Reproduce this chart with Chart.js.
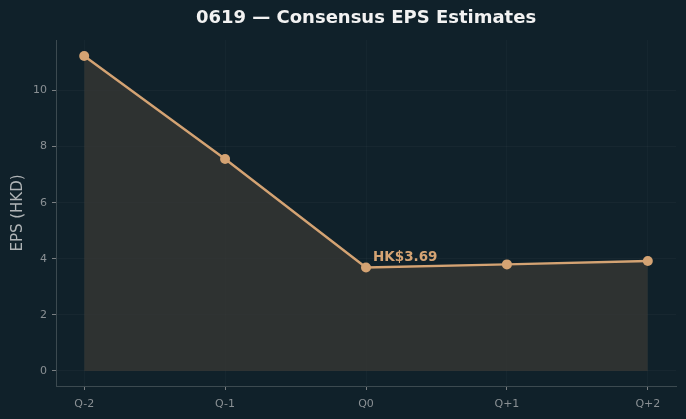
<!DOCTYPE html>
<html><head><meta charset="utf-8">
<script src="https://cdn.jsdelivr.net/npm/chart.js@4/dist/chart.umd.min.js"></script>
<style>html,body{margin:0;padding:0;background:#10212a;}#c{display:block;}</style>
</head><body>
<canvas id="c" width="686" height="419"></canvas>
<script>
const categories = ["Q-2","Q-1","Q0","Q+1","Q+2"];
const epsValues = [11.23, 7.56, 3.69, 3.80, 3.92];
const yTicks = [0,2,4,6,8,10];
const annotationIndex = 2;
const annotationText = "HK$3.69";
const titleText = "0619 \u2014 Consensus EPS Estimates";

const TAN = '#d4a373';
const FONT = "'DejaVu Sans', sans-serif";

const bgPlugin = {
  id:'bg',
  beforeDraw(chart){
    const ctx=chart.ctx; ctx.save(); ctx.fillStyle='#10212a'; ctx.fillRect(0,0,chart.width,chart.height); ctx.restore();
  },
  afterDraw(chart){
    const ctx=chart.ctx; const a=chart.chartArea;
    ctx.save();
    ctx.fillStyle='#f2f2f2'; ctx.font="bold 18px "+FONT; ctx.textAlign='center'; ctx.textBaseline='middle';
    ctx.fillText(titleText,(a.left+a.right)/2,18);
    const xs=chart.scales.x, ys=chart.scales.y;
    ctx.fillStyle=TAN; ctx.font="bold 13.5px "+FONT; ctx.textAlign='left'; ctx.textBaseline='alphabetic';
    ctx.fillText(annotationText, xs.getPixelForValue(annotationIndex)+7, ys.getPixelForValue(epsValues[annotationIndex])-6);
    ctx.restore();
  }
};

new Chart(document.getElementById('c'),{
  type:'line',
  data:{datasets:[{
    data: epsValues.map((v,i)=>({x:i,y:v})),
    borderColor:TAN, borderWidth:2.4,
    pointBackgroundColor:TAN, pointBorderColor:TAN, pointRadius:5, pointBorderWidth:0,
    fill:{target:'origin'}, backgroundColor:'rgba(56,56,52,0.75)', tension:0
  }]},
  options:{
    responsive:false, animation:false, devicePixelRatio:1,
    layout:{padding:{top:40,right:10,left:0,bottom:0}},
    plugins:{legend:{display:false},tooltip:{enabled:false}},
    scales:{
      x:{type:'linear',min:-0.2,max:4.2,
        afterBuildTicks(s){s.ticks=categories.map((c,i)=>({value:i}));},
        afterFit(s){s.height=33;},
        ticks:{callback:(v)=>categories[v]??'',color:'#8a9094',font:{family:FONT,size:11},padding:8,maxRotation:0,autoSkip:false},
        grid:{color:'rgba(255,255,255,0.025)',tickColor:'#7a7f82',tickLength:4,drawTicks:true},
        border:{color:'#3c4a50',width:1}
      },
      y:{type:'linear',min:-0.535,max:11.8,
        afterBuildTicks(s){s.ticks=yTicks.map(v=>({value:v}));},
        afterFit(s){s.width=56;},
        title:{display:true,text:'EPS (HKD)',color:'#b0b4b6',font:{family:FONT,size:15},padding:{top:9,bottom:0}},
        ticks:{color:'#8a9094',font:{family:FONT,size:11},padding:5},
        grid:{color:'rgba(255,255,255,0.03)',tickColor:'#7a7f82',tickLength:4},
        border:{color:'#3c4a50',width:1}
      }
    }
  },
  plugins:[bgPlugin]
});
</script>
</body></html>
